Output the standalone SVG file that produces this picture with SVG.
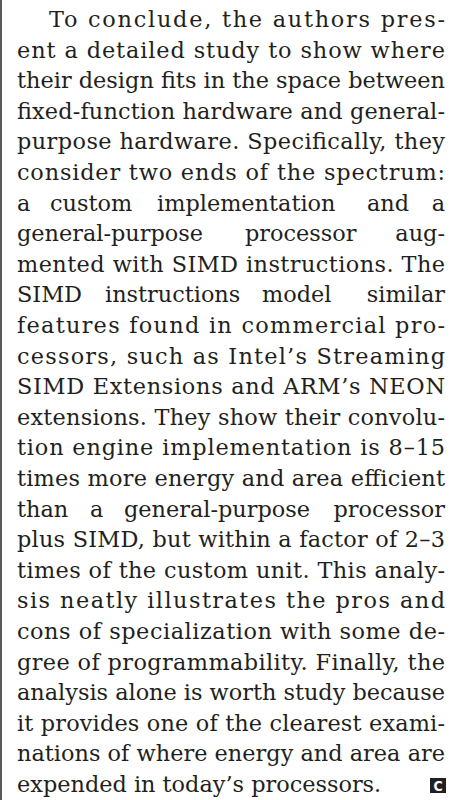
<svg xmlns="http://www.w3.org/2000/svg" width="463" height="800" viewBox="0 0 463 800">
  <style>
    .body { font-family: "DejaVu Serif", "Liberation Serif", serif; font-size: 22.4px; fill: #231f20; }
    .end { text-anchor: end; }
    .mark { font-family: "DejaVu Sans Condensed", "DejaVu Sans", sans-serif; font-weight: bold; font-size: 14px; fill: #ffffff; text-anchor: middle; }
  </style>
  <rect width="463" height="800" fill="#ffffff"/>
  <!-- column rule on the left -->
  <rect x="0" y="0" width="2" height="800" fill="#5a5a5a"/>

  <g id="column">
    <text class="body" x="49" y="27" textLength="396" lengthAdjust="spacing">To conclude, the authors pres-</text>
    <text class="body" x="17" y="57.6" textLength="428" lengthAdjust="spacing">ent a detailed study to show where</text>
    <text class="body" x="17" y="88.2" textLength="428" lengthAdjust="spacing">their design fits in the space between</text>
    <text class="body" x="17" y="118.8" textLength="428" lengthAdjust="spacing">fixed-function hardware and general-</text>
    <text class="body" x="17" y="149.4" textLength="428" lengthAdjust="spacing">purpose hardware. Specifically, they</text>
    <text class="body" x="17" y="180" textLength="428" lengthAdjust="spacing">consider two ends of the spectrum:</text>
    <text class="body" y="210.6"><tspan x="17">a</tspan><tspan x="50">custom</tspan><tspan x="157">implementation</tspan><tspan x="367">and</tspan></text>
    <text class="body end" x="445" y="210.6">a</text>
    <text class="body" y="241.2"><tspan x="17">general-purpose</tspan><tspan x="245">processor</tspan></text>
    <text class="body end" x="445" y="241.2">aug-</text>
    <text class="body" x="17" y="271.8" textLength="428" lengthAdjust="spacing">mented with SIMD instructions. The</text>
    <text class="body" y="302.4"><tspan x="17">SIMD</tspan><tspan x="105">instructions</tspan><tspan x="262">model</tspan></text>
    <text class="body end" x="445" y="302.4">similar</text>
    <text class="body" x="17" y="333" textLength="428" lengthAdjust="spacing">features found in commercial pro-</text>
    <text class="body" x="17" y="363.6" textLength="428" lengthAdjust="spacing">cessors, such as Intel’s Streaming</text>
    <text class="body" x="17" y="394.2" textLength="428" lengthAdjust="spacing">SIMD Extensions and ARM’s NEON</text>
    <text class="body" x="17" y="424.8" textLength="428" lengthAdjust="spacing">extensions. They show their convolu-</text>
    <text class="body" x="17" y="455.4" textLength="428" lengthAdjust="spacing">tion engine implementation is 8–15</text>
    <text class="body" x="17" y="486" textLength="428" lengthAdjust="spacing">times more energy and area efficient</text>
    <text class="body" y="516.6"><tspan x="17">than</tspan><tspan x="90">a</tspan><tspan x="124">general-purpose</tspan></text>
    <text class="body end" x="445" y="516.6">processor</text>
    <text class="body" x="17" y="547.2" textLength="428" lengthAdjust="spacing">plus SIMD, but within a factor of 2–3</text>
    <text class="body" x="17" y="577.8" textLength="428" lengthAdjust="spacing">times of the custom unit. This analy-</text>
    <text class="body" x="17" y="608.4" textLength="428" lengthAdjust="spacing">sis neatly illustrates the pros and</text>
    <text class="body" x="17" y="639" textLength="428" lengthAdjust="spacing">cons of specialization with some de-</text>
    <text class="body" x="17" y="669.6" textLength="428" lengthAdjust="spacing">gree of programmability. Finally, the</text>
    <text class="body" x="17" y="700.2" textLength="428" lengthAdjust="spacing">analysis alone is worth study because</text>
    <text class="body" x="17" y="730.8" textLength="428" lengthAdjust="spacing">it provides one of the clearest exami-</text>
    <text class="body" x="17" y="761.4" textLength="428" lengthAdjust="spacing">nations of where energy and area are</text>
    <text class="body" x="17" y="792">expended in today’s processors.</text>
  </g>

  <!-- end-of-article mark -->
  <g id="end-mark">
    <rect x="430" y="778" width="16" height="15" fill="#231f20"/>
    <text class="mark" x="438" y="790.5">C</text>
  </g>
</svg>
